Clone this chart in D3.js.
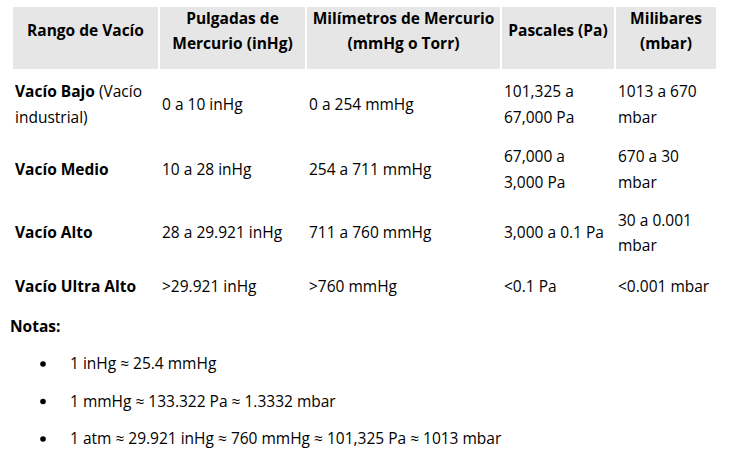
<!DOCTYPE html><html><head><meta charset="utf-8"><script src="https://cdn.jsdelivr.net/npm/d3@7"></script>
<style>body{margin:0;background:#fff}text{font-family:"Open Sans",sans-serif;font-size:15.5px;fill:#000}</style></head><body><svg width="729" height="460"></svg>
<script>
const headers=[["Rango de Vacío"],["Pulgadas de","Mercurio (inHg)"],["Milímetros de Mercurio","(mmHg o Torr)"],["Pascales (Pa)"],["Milibares","(mbar)"]];
const rowLabels=[["Vacío Bajo","Vacío Bajo (Vacío","industrial)"],["Vacío Medio"],["Vacío Alto"],["Vacío Ultra Alto"]];
const inHg=[["0 a 10 inHg"],["10 a 28 inHg"],["28 a 29.921 inHg"],[">29.921 inHg"]];
const mmHg=[["0 a 254 mmHg"],["254 a 711 mmHg"],["711 a 760 mmHg"],[">760 mmHg"]];
const pa=[["101,325 a","67,000 Pa"],["67,000 a","3,000 Pa"],["3,000 a 0.1 Pa"],["<0.1 Pa"]];
const mbar=[["1013 a 670","mbar"],["670 a 30","mbar"],["30 a 0.001","mbar"],["<0.001 mbar"]];
const notes=["1 inHg ≈ 25.4 mmHg","1 mmHg ≈ 133.322 Pa ≈ 1.3332 mbar","1 atm ≈ 29.921 inHg ≈ 760 mmHg ≈ 101,325 Pa ≈ 1013 mbar"];
const colX=[13,160,307,502,616], colW=[145,145,193,112,100];
const rowY=[72,137,202,264], rowH=[65,65,62,46];
const svg=d3.select("svg");
function fit(t,maxW){const w=t.node().getComputedTextLength(); if(w>maxW) t.attr("textLength",maxW).attr("lengthAdjust","spacingAndGlyphs");}
headers.forEach((h,i)=>{
 svg.append("rect").attr("x",colX[i]).attr("y",7).attr("width",colW[i]).attr("height",62).attr("fill","#e7e6e6");
 const y0=h.length==1?31:19;
 h.forEach((l,j)=>{const t=svg.append("text").attr("x",colX[i]+colW[i]/2).attr("y",y0+j*25).attr("dy","0.35em").attr("text-anchor","middle").attr("font-weight","bold").text(l);fit(t,colW[i]-4);});
});
function cell(lines,ci,ri,boldFirst){
 const cy=rowY[ri]+rowH[ri]/2; const n=lines.length;
 lines.forEach((l,j)=>{
  const t=svg.append("text").attr("x",colX[ci]+2).attr("y",cy+(j-(n-1)/2)*25.5).attr("dy","0.35em");
  if(boldFirst){t.append("tspan").attr("font-weight","bold").text(l);} else t.text(l);
  fit(t,colW[ci]-4);
 });
}
rowLabels.forEach((r,i)=>{
 if(r.length==3){
  const cy=rowY[i]+rowH[i]/2;
  const t=svg.append("text").attr("x",colX[0]+2).attr("y",cy-12.75).attr("dy","0.35em");
  t.append("tspan").attr("font-weight","bold").text(r[0]);
  t.append("tspan").text(r[1].slice(r[0].length));
  fit(t,colW[0]-4);
  svg.append("text").attr("x",colX[0]+2).attr("y",cy+12.75).attr("dy","0.35em").text(r[2]);
 } else cell(r,0,i,true);
});
[inHg,mmHg,pa,mbar].forEach((col,c)=>col.forEach((v,i)=>cell(v,c+1,i,false)));
svg.append("text").attr("x",10).attr("y",327).attr("dy","0.35em").attr("font-weight","bold").text("Notas:");
notes.forEach((n,i)=>{
 const y=364+i*37.5;
 svg.append("circle").attr("cx",43).attr("cy",y).attr("r",2.8).attr("fill","#000");
 svg.append("text").attr("x",70).attr("y",y).attr("dy","0.35em").text(n);
});
</script></body></html>
